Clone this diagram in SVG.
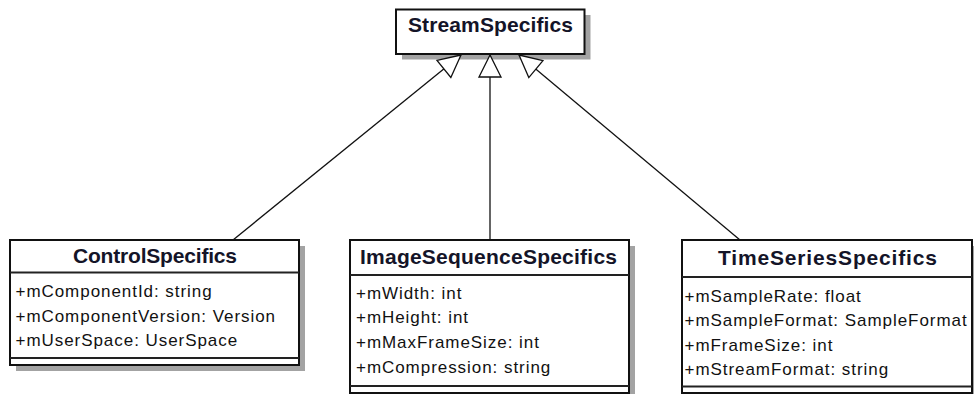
<svg xmlns="http://www.w3.org/2000/svg" width="974" height="394" viewBox="0 0 974 394">
<style>
.bg{fill:#ffffff}
.shadow{fill:#a3a3a3}
.box{fill:#ffffff;stroke:#111111;stroke-width:2}
.sep{stroke:#222222;stroke-width:2;fill:none}
.title{font-family:"Liberation Sans",Arial,sans-serif;font-weight:bold;font-size:21px;fill:#141428;text-anchor:middle}
.attr{font-family:"Liberation Sans",Arial,sans-serif;font-size:17px;letter-spacing:0.95px;fill:#111111}
.conn{stroke:#111111;stroke-width:1.3;fill:none}
</style>
<defs>
<marker id="gen" viewBox="0 0 26 26" refX="24" refY="13" markerWidth="26" markerHeight="26" markerUnits="userSpaceOnUse" orient="auto">
<path d="M24,13 L2,2 L2,24 Z" fill="#ffffff" stroke="#111111" stroke-width="1.3"/>
</marker>
</defs>
<rect class="bg" x="0" y="0" width="974" height="394"/>

<g id="StreamSpecifics">
<rect class="shadow" x="402" y="15" width="188.5" height="44.5"/>
<rect class="box" x="396" y="9.5" width="188.5" height="44.5"/>
<text class="title" x="490.5" y="32" textLength="165" lengthAdjust="spacing">StreamSpecifics</text>
</g>

<g id="connectors">
<line class="conn" x1="233" y1="240" x2="461" y2="55" marker-end="url(#gen)"/>
<line class="conn" x1="490" y1="240" x2="490" y2="55" marker-end="url(#gen)"/>
<line class="conn" x1="740" y1="240" x2="519" y2="55" marker-end="url(#gen)"/>
</g>

<g id="ControlSpecifics">
<rect class="shadow" x="16" y="246" width="289" height="125"/>
<rect class="box" x="10" y="240" width="289" height="125"/>
<line class="sep" x1="10" y1="272.5" x2="299" y2="272.5"/>
<line class="sep" x1="10" y1="358" x2="299" y2="358"/>
<text class="title" x="155" y="262.5" textLength="164" lengthAdjust="spacing">ControlSpecifics</text>
<text class="attr" x="15.5" y="297">+mComponentId: string</text>
<text class="attr" x="15.5" y="321.5">+mComponentVersion: Version</text>
<text class="attr" x="15.5" y="346">+mUserSpace: UserSpace</text>
</g>

<g id="ImageSequenceSpecifics">
<rect class="shadow" x="356" y="246" width="279" height="153"/>
<rect class="box" x="350" y="240" width="279" height="153"/>
<line class="sep" x1="350" y1="275" x2="629" y2="275"/>
<line class="sep" x1="350" y1="386" x2="629" y2="386"/>
<text class="title" x="488.5" y="263.5" textLength="257" lengthAdjust="spacing">ImageSequenceSpecifics</text>
<text class="attr" x="356" y="298.5">+mWidth: int</text>
<text class="attr" x="356" y="323">+mHeight: int</text>
<text class="attr" x="356" y="348">+mMaxFrameSize: int</text>
<text class="attr" x="356" y="373">+mCompression: string</text>
</g>

<g id="TimeSeriesSpecifics">
<rect class="shadow" x="688" y="246" width="290" height="153"/>
<rect class="box" x="682" y="240" width="290" height="153"/>
<line class="sep" x1="682" y1="277" x2="972" y2="277"/>
<line class="sep" x1="682" y1="386.5" x2="972" y2="386.5"/>
<text class="title" x="827.5" y="265" textLength="219" lengthAdjust="spacing">TimeSeriesSpecifics</text>
<text class="attr" x="684.5" y="301.5">+mSampleRate: float</text>
<text class="attr" x="684.5" y="326">+mSampleFormat: SampleFormat</text>
<text class="attr" x="684.5" y="350.5">+mFrameSize: int</text>
<text class="attr" x="684.5" y="375">+mStreamFormat: string</text>
</g>
</svg>
